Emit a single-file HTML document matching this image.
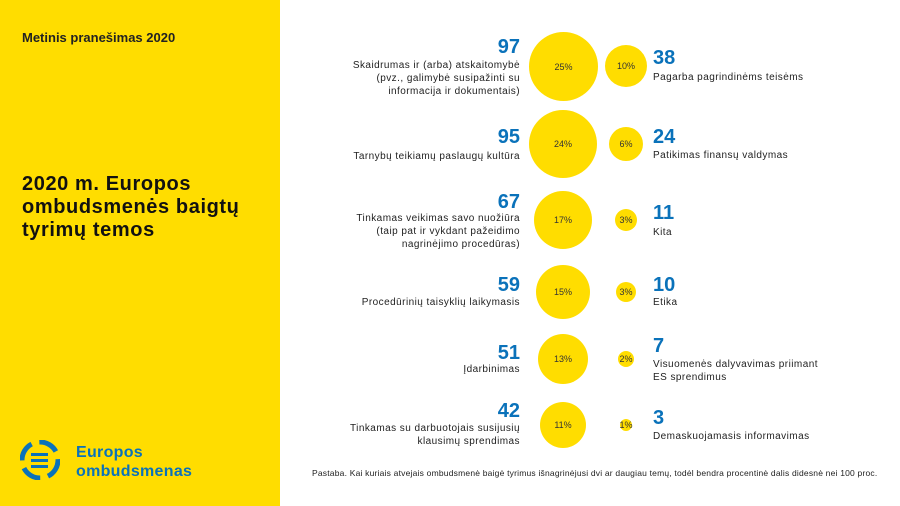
<!DOCTYPE html><html><head><meta charset="utf-8"><style>
body{margin:0;width:900px;height:506px;position:relative;background:#fff;font-family:"Liberation Sans",sans-serif;overflow:hidden;color:#222}
.side{position:absolute;left:0;top:0;width:280px;height:506px;background:#FFDD00}
.t{position:absolute;white-space:nowrap}
.n{position:absolute;font-weight:bold;font-size:20px;color:#0a72ba;line-height:20px}
.l{position:absolute;font-size:10px;line-height:13px;letter-spacing:0.45px;white-space:nowrap}
.r{text-align:right;right:380px}
.c{position:absolute;border-radius:50%;background:#FFDD00;font-size:9px;display:flex;align-items:center;justify-content:center;color:#333}
</style></head><body>
<div class="side"></div>
<div class="t" style="left:22px;top:30px;font-weight:bold;font-size:13px">Metinis pranešimas 2020</div>
<div class="t" style="left:22px;top:173px;font-weight:bold;font-size:20px;letter-spacing:0.6px;line-height:23px;color:#111">2020 m. Europos<br>ombudsmenės baigtų<br>tyrimų temos</div>
<svg style="position:absolute;left:20px;top:440px" width="40" height="40" viewBox="0 0 40 40"><circle cx="20" cy="20" r="18" fill="none" stroke="#0a72ba" stroke-width="5" stroke-dasharray="20 8"/><rect x="11" y="13" width="17" height="3" fill="#0a72ba"/><rect x="11" y="19" width="17" height="3" fill="#0a72ba"/><rect x="11" y="25" width="17" height="3" fill="#0a72ba"/></svg>
<div class="t" style="left:76px;top:443px;font-weight:bold;font-size:16px;letter-spacing:0.3px;line-height:19px;color:#0a72ba">Europos<br>ombudsmenas</div>

<div class="c" style="left:529px;top:32px;width:69px;height:69px">25%</div>
<div class="c" style="left:605px;top:45px;width:42px;height:42px">10%</div>
<div class="c" style="left:529px;top:110px;width:68px;height:68px">24%</div>
<div class="c" style="left:609px;top:127px;width:34px;height:34px">6%</div>
<div class="c" style="left:534px;top:191px;width:58px;height:58px">17%</div>
<div class="c" style="left:615px;top:209px;width:22px;height:22px">3%</div>
<div class="c" style="left:536px;top:265px;width:54px;height:54px">15%</div>
<div class="c" style="left:616px;top:282px;width:20px;height:20px">3%</div>
<div class="c" style="left:538px;top:334px;width:50px;height:50px">13%</div>
<div class="c" style="left:618px;top:351px;width:16px;height:16px">2%</div>
<div class="c" style="left:540px;top:402px;width:46px;height:46px">11%</div>
<div class="c" style="left:620px;top:419px;width:12px;height:12px">1%</div>

<div class="n r" style="top:37px">97</div>
<div class="l r" style="top:59px">Skaidrumas ir (arba) atskaitomybė<br>(pvz., galimybė susipažinti su<br>informacija ir dokumentais)</div>
<div class="n r" style="top:127px">95</div>
<div class="l r" style="top:150px">Tarnybų teikiamų paslaugų kultūra</div>
<div class="n r" style="top:192px">67</div>
<div class="l r" style="top:212px">Tinkamas veikimas savo nuožiūra<br>(taip pat ir vykdant pažeidimo<br>nagrinėjimo procedūras)</div>
<div class="n r" style="top:275px">59</div>
<div class="l r" style="top:296px">Procedūrinių taisyklių laikymasis</div>
<div class="n r" style="top:343px">51</div>
<div class="l r" style="top:363px">Įdarbinimas</div>
<div class="n r" style="top:401px">42</div>
<div class="l r" style="top:422px">Tinkamas su darbuotojais susijusių<br>klausimų sprendimas</div>

<div class="n" style="left:653px;top:48px">38</div>
<div class="l" style="left:653px;top:71px">Pagarba pagrindinėms teisėms</div>
<div class="n" style="left:653px;top:127px">24</div>
<div class="l" style="left:653px;top:149px">Patikimas finansų valdymas</div>
<div class="n" style="left:653px;top:203px">11</div>
<div class="l" style="left:653px;top:226px">Kita</div>
<div class="n" style="left:653px;top:275px">10</div>
<div class="l" style="left:653px;top:296px">Etika</div>
<div class="n" style="left:653px;top:336px">7</div>
<div class="l" style="left:653px;top:358px">Visuomenės dalyvavimas priimant<br>ES sprendimus</div>
<div class="n" style="left:653px;top:408px">3</div>
<div class="l" style="left:653px;top:430px">Demaskuojamasis informavimas</div>

<div class="t" style="left:312px;top:468px;font-size:8.5px;letter-spacing:0.2px">Pastaba. Kai kuriais atvejais ombudsmenė baigė tyrimus išnagrinėjusi dvi ar daugiau temų, todėl bendra procentinė dalis didesnė nei 100 proc.</div>
</body></html>
